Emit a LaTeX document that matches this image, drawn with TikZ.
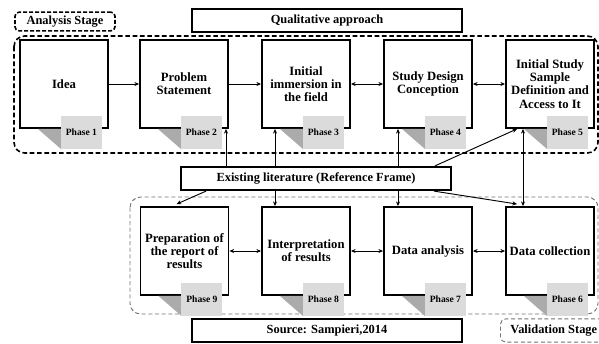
\documentclass[tikz,border=0pt]{standalone}
\usepackage{fontspec}
\setmainfont{Liberation Serif}
\usetikzlibrary{arrows.meta,calc}
\begin{document}
\begin{tikzpicture}[x=0.75pt,y=-0.75pt,
  phasebox/.style={draw=black,line width=1.4pt,fill=white,minimum width=66pt,minimum height=66pt,inner sep=0pt,align=center,font=\bfseries\fontsize{9.5}{9.9}\selectfont},
  labbox/.style={draw=black,line width=1.4pt,minimum width=202.5pt,minimum height=17.5pt,inner sep=0pt,font=\bfseries\fontsize{9.3}{10}\selectfont},
  arr/.style={line width=0.7pt,-{Stealth[length=3.5pt,width=3pt]}},
  darr/.style={line width=0.7pt,{Stealth[length=3.5pt,width=3pt]}-{Stealth[length=3.5pt,width=3pt]}},
  phasefold/.style={fill=black!33,draw=none},
  phasetag/.style={fill=black!14,draw=none},
  phasetext/.style={font=\bfseries\fontsize{7.2}{8}\selectfont,inner sep=0pt}
]
\useasboundingbox (0,0) rectangle (599,343);
\fill[white] (0,0) rectangle (599,343);

% stage regions
\draw[line width=1.2pt,dash pattern=on 3.5pt off 2pt,rounded corners=8pt] (14,36) rectangle (598,153);
\draw[black!55,line width=0.7pt,densely dashed,rounded corners=8pt] (130,197) rectangle (598,314);

% header / footer labels
\node[draw=black,line width=1.2pt,dash pattern=on 3pt off 1.5pt,rounded corners=3pt,minimum width=75pt,minimum height=14pt,inner sep=0pt,font=\bfseries\fontsize{9.3}{10}\selectfont] (analysis) at (65,21.5) {Analysis Stage};
\node[labbox] (qual) at (327,20.5) {Qualitative approach};
\node[labbox] (lit) at (316,178.5) {Existing literature (Reference Frame)};
\node[labbox] (src) at (327,330.5) {Source: Sampieri,2014};
\node[draw=black!55,line width=0.7pt,densely dashed,rounded corners=4pt,minimum width=80pt,minimum height=17.5pt,inner sep=0pt,font=\bfseries\fontsize{9.3}{10}\selectfont,anchor=west] (valid) at (500,330.5) {Validation Stage};

% phase boxes
\node[phasebox] (b1) at (64,84) {Idea};
\node[phasebox] (b2) at (184,84) {Problem\\Statement};
\node[phasebox] (b3) at (306,84) {Initial\\immersion in\\the field};
\node[phasebox] (b4) at (428,84) {Study Design\\Conception};
\node[phasebox] (b5) at (550,84) {Initial Study\\Sample\\Definition and\\Access to It};
\node[phasebox] (b9) at (184.5,251) {Preparation of\\the report of\\results};
\node[phasebox] (b8) at (306,251) {Interpretation\\of results};
\node[phasebox] (b7) at (428,251) {Data analysis};
\node[phasebox] (b6) at (550,251) {Data collection};

% phase tags
\foreach \b/\n in {b1/1,b2/2,b3/3,b4/4,b5/5,b9/9,b8/8,b7/7,b6/6}{
  \fill[phasefold] ($(\b.south east)+(-71,0)$) -- ($(\b.south east)+(-48,0)$) -- ($(\b.south east)+(-48,20)$) -- cycle;
  \fill[phasetag] ($(\b.south east)+(-48,-13)$) rectangle ($(\b.south east)+(-7,20)$);
  \node[phasetext] at ($(\b.south east)+(-27.5,3)$) {Phase \n};
}

% helper coordinates
\coordinate (a2) at (226,0);
\coordinate (a3) at (275,0);
\coordinate (a4) at (398,0);
\coordinate (a5) at (523,0);

% top row flow
\draw[arr] (b1.east) -- (b2.west);
\draw[arr] (b2.east) -- (b3.west);
\draw[darr] (b3.east) -- (b4.west);
\draw[darr] (b4.east) -- (b5.west);

% bottom row flow
\draw[darr] (b9.east) -- (b8.west);
\draw[darr] (b8.east) -- (b7.west);
\draw[darr] (b7.east) -- (b6.west);

% literature links
\draw[arr] (lit.north -| a2) -- (b2.south -| a2);
\draw[arr] (lit.north -| a3) -- (b3.south -| a3);
\draw[arr] (lit.north -| a4) -- (b4.south -| a4);
\draw[arr] ($(lit.north east)+(-17,0)$) -- ($(b5.south west)+(12,0)$);
\draw[arr] (lit.south -| a3) -- (b8.north -| a3);
\draw[arr] (lit.south -| a4) -- (b7.north -| a4);
\draw[arr] ($(lit.south east)+(-18,0)$) -- ($(b6.north west)+(12,-2)$);
\draw[arr] ($(lit.south west)+(26,0)$) -- ($(b9.north west)+(37,-2)$);
\draw[darr] (b5.south -| a5) -- (b6.north -| a5);
\end{tikzpicture}
\end{document}
